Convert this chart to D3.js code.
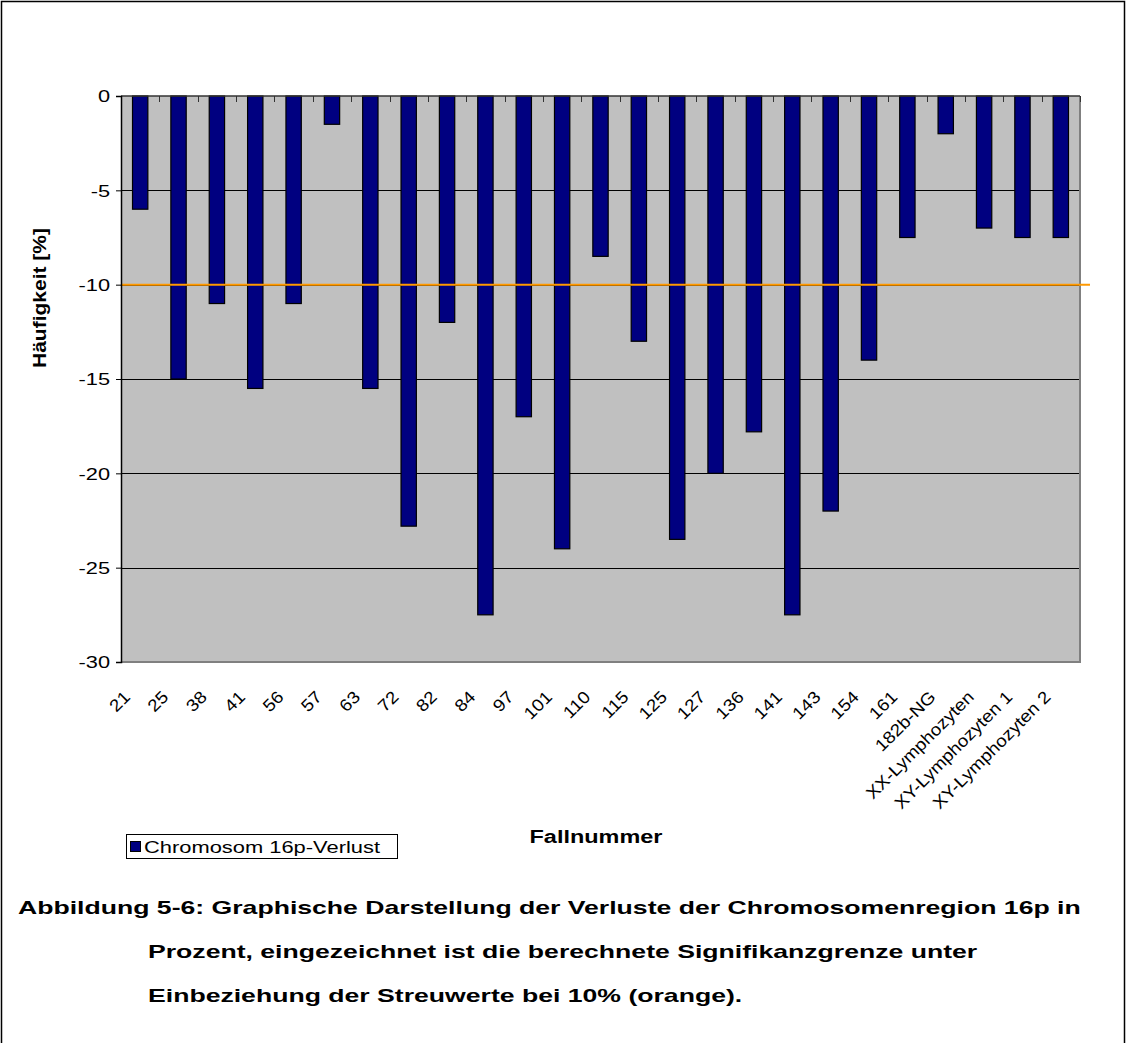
<!DOCTYPE html>
<html>
<head>
<meta charset="utf-8">
<script src="https://cdn.jsdelivr.net/npm/d3@7"></script>
<style>
  html, body { margin: 0; padding: 0; background: #fff; }
  svg { display: block; }
  text { font-family: Arial, "Liberation Sans", sans-serif; fill: #000; }
</style>
</head>
<body>
<svg id="chart" width="1127" height="1043"></svg>
<script>
const categories = ["21","25","38","41","56","57","63","72","82","84","97","101","110","115","125","127","136","141","143","154","161","182b-NG","XX-Lymphozyten","XY-Lymphozyten 1","XY-Lymphozyten 2"];
const lossValues = [-6,-15,-11,-15.5,-11,-1.5,-15.5,-22.8,-12,-27.5,-17,-24,-8.5,-13,-23.5,-20,-17.8,-27.5,-22,-14,-7.5,-2,-7,-7.5,-7.5];
const yTicks = [0,-5,-10,-15,-20,-25,-30];
const yTickLabels = ["0","-5","-10","-15","-20","-25","-30"];
const threshold = -10;
const seriesName = "Chromosom 16p-Verlust";
const xTitle = "Fallnummer";
const yTitle = "Häufigkeit [%]";
const captionLines = [
  "Abbildung 5-6: Graphische Darstellung der Verluste der Chromosomenregion 16p in",
  "Prozent, eingezeichnet ist die berechnete Signifikanzgrenze unter",
  "Einbeziehung der Streuwerte bei 10% (orange)."
];

const svg = d3.select("#chart");
const plot = {left: 121, right: 1080, top: 96, bottom: 662};

function stretch(sel, k) {
  sel.each(function() {
    const len = this.getComputedTextLength();
    d3.select(this).attr("textLength", len * k).attr("lengthAdjust", "spacingAndGlyphs");
  });
}
function fitTo(sel, w) {
  sel.attr("textLength", w).attr("lengthAdjust", "spacingAndGlyphs");
}

// outer frame
svg.append("rect").attr("x", 1.5).attr("y", 1.5).attr("width", 1123).attr("height", 1045)
  .attr("fill", "none").attr("stroke", "#000").attr("stroke-width", 1.5);

const x = d3.scaleBand().domain(categories).range([plot.left, plot.right]).paddingInner(0.6).paddingOuter(0.3);
const y = d3.scaleLinear().domain([-30, 0]).range([plot.bottom, plot.top]);

// plot background
svg.append("rect").attr("x", plot.left).attr("y", plot.top)
  .attr("width", plot.right - plot.left).attr("height", plot.bottom - plot.top)
  .attr("fill", "#C0C0C0");

// gridlines
svg.append("g").selectAll("line").data(yTicks.filter(d => d !== 0 && d !== -30)).join("line")
  .attr("x1", plot.left).attr("x2", plot.right)
  .attr("y1", d => Math.round(y(d)) + 0.5).attr("y2", d => Math.round(y(d)) + 0.5)
  .attr("stroke", "#000").attr("stroke-width", 1);

// right & bottom border
svg.append("path")
  .attr("d", `M${plot.right},${plot.top}V${plot.bottom}H${plot.left}`)
  .attr("fill", "none").attr("stroke", "#808080").attr("stroke-width", 2);

// bars
svg.append("g").selectAll("rect").data(categories).join("rect")
  .attr("x", (d) => x(d))
  .attr("y", y(0))
  .attr("width", x.bandwidth())
  .attr("height", (d, i) => y(lossValues[i]) - y(0))
  .attr("fill", "#000080").attr("stroke", "#000").attr("stroke-width", 1.2);

// threshold line
svg.append("line")
  .attr("x1", plot.left).attr("x2", 1090)
  .attr("y1", y(threshold)).attr("y2", y(threshold))
  .attr("stroke", "#FF9900").attr("stroke-width", 2);

// category axis (at y=0, top), ticks pointing down between categories
const tickXs = d3.range(categories.length + 1).map(i => plot.left + i * (plot.right - plot.left) / categories.length);
svg.append("line").attr("x1", plot.left).attr("x2", plot.right)
  .attr("y1", plot.top).attr("y2", plot.top).attr("stroke", "#333").attr("stroke-width", 1.5);
svg.append("g").selectAll("line").data(tickXs).join("line")
  .attr("x1", d => Math.round(d) + 0.5).attr("x2", d => Math.round(d) + 0.5)
  .attr("y1", plot.top).attr("y2", plot.top + 6)
  .attr("stroke", "#333").attr("stroke-width", 1);

// value axis
const yAxis = d3.axisLeft(y).tickValues(yTicks).tickSize(5).tickPadding(8)
  .tickFormat((d, i) => yTickLabels[i]);
const gy = svg.append("g").attr("transform", `translate(${plot.left},0)`).call(yAxis);
gy.select(".domain").attr("stroke", "#000").attr("stroke-width", 1.5);
gy.selectAll(".tick line").attr("stroke", "#000");
gy.selectAll(".tick text").attr("font-size", 16.5).attr("font-family", "Arial, 'Liberation Sans', sans-serif")
  .attr("fill", "#000").attr("x", -11).attr("dy", "0.36em");
stretch(gy.selectAll(".tick text"), 1.32);

// category labels
const labels = svg.append("g").selectAll("text").data(categories).join("text")
  .attr("transform", d => `translate(${x(d) + x.bandwidth() / 2 - 9},${698}) rotate(-45)`)
  .attr("text-anchor", "end")
  .attr("font-size", 17)
  .text(d => d);
stretch(labels, 1.12);

// axis titles
const yt = svg.append("text")
  .attr("transform", `translate(46,298) rotate(-90)`)
  .attr("text-anchor", "middle").attr("font-size", 18).attr("font-weight", "bold")
  .text(yTitle);
fitTo(yt, 140);

const xt = svg.append("text")
  .attr("x", 596).attr("y", 843)
  .attr("text-anchor", "middle").attr("font-size", 17.5).attr("font-weight", "bold")
  .text(xTitle);
fitTo(xt, 133);

// legend
const lg = svg.append("g");
lg.append("rect").attr("x", 126.5).attr("y", 834.5).attr("width", 271).attr("height", 24)
  .attr("fill", "#fff").attr("stroke", "#000").attr("stroke-width", 1);
lg.append("rect").attr("x", 130.5).attr("y", 841.5).attr("width", 10).attr("height", 10)
  .attr("fill", "#000080").attr("stroke", "#000").attr("stroke-width", 1);
const lt = lg.append("text").attr("x", 144).attr("y", 852.5).attr("font-size", 16.5).text(seriesName);
fitTo(lt, 236);

// caption
const capX = [18, 148, 148];
const capY = [914, 958, 1002];
const capK = 1.4;
captionLines.forEach((line, i) => {
  const t = svg.append("text").attr("x", capX[i]).attr("y", capY[i])
    .attr("font-size", 19).attr("font-weight", "bold").text(line);
  stretch(t, capK);
});
</script>
</body>
</html>
